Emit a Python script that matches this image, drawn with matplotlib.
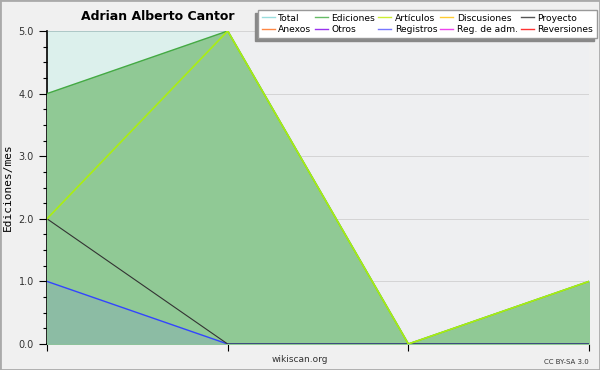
import matplotlib
matplotlib.use('Agg')
import matplotlib.pyplot as plt
from matplotlib.lines import Line2D
from matplotlib.patches import Rectangle

months = [0, 1, 2, 3]
total = [5, 5, 0, 1]
ediciones = [4, 5, 0, 1]
articulos = [2, 5, 0, 1]
proyecto = [2, 0, 0, 0]
registros = [1, 0, 0, 0]

names = ['Total', 'Ediciones', 'Artículos', 'Discusiones', 'Proyecto',
         'Anexos', 'Otros', 'Registros', 'Reg. de adm.', 'Reversiones']
colors = ['#99dddd', '#66bb66', '#ccee33', '#ffcc33', '#555555',
          '#ff8844', '#9933ee', '#7777ff', '#ee44ee', '#ff3333']

fig = plt.figure(figsize=(6, 3.7), dpi=100, facecolor='#f0f0f0')
fig.patches.append(Rectangle((0, 0), 1, 1, transform=fig.transFigure,
                             fill=False, edgecolor='#aaaaaa', lw=2))
ax = fig.add_axes([47/600, 26/370, 542/600, 313/370])
ax.set_facecolor('#eeeff1')

ax.fill_between(months, total, color='#dcf0ec', zorder=1)
ax.plot(months, total, color='#88cccc', lw=1, zorder=2)
ax.fill_between(months, ediciones, color='#90c995', zorder=3)
ax.plot(months, ediciones, color='#44aa44', lw=1, zorder=4)
ax.fill_between(months, registros, color='#7777ff', alpha=0.15, lw=0, zorder=4)
ax.plot(months, registros, color='#3344ff', lw=1, zorder=5)
ax.plot(months, proyecto, color='#333333', lw=0.8, zorder=5)
ax.plot(months, articulos, color='#aaee11', lw=1.2, zorder=6)

ax.set_xlim(0, 3)
ax.set_ylim(0, 5)
ax.set_xticks(months)
ax.set_xticklabels([])
ax.set_yticks([0, 1, 2, 3, 4, 5])
ax.set_yticklabels(['0.0', '1.0', '2.0', '3.0', '4.0', '5.0'], fontsize=7, color='#333333')
ax.set_yticks([i * 0.25 for i in range(21)], minor=True)
ax.tick_params(axis='y', which='major', length=6, width=0.8)
ax.tick_params(axis='y', which='minor', length=3, width=0.8)
ax.tick_params(axis='x', length=5, width=0.8)
ax.grid(axis='y', color='#bbbbbb', lw=0.6, alpha=0.6, zorder=7)
ax.set_axisbelow(False)
for s in ['top', 'right']:
    ax.spines[s].set_visible(False)
ax.spines['left'].set_linewidth(1.2)
ax.spines['bottom'].set_linewidth(1.2)

ax.set_ylabel('Ediciones/mes', fontsize=8, family='DejaVu Sans Mono')
fig.text(158/600, 1 - 17/370, 'Adrian Alberto Cantor', ha='center', va='center',
         fontsize=9, fontweight='bold')
fig.text(300/600, 1 - 360/370, 'wikiscan.org', ha='center', va='center', fontsize=6.5, color='#333333')
fig.text(589/600, 1 - 362/370, 'CC BY-SA 3.0', ha='right', va='center', fontsize=5, color='#333333')

# legend fills column-wise, so interleave the two rows
order = [0, 5, 1, 6, 2, 7, 3, 8, 4, 9]
handles = [Line2D([], [], color=colors[i], lw=1) for i in order]
labels = [names[i] for i in order]
leg = fig.legend(handles, labels, ncol=5, loc='upper right', bbox_to_anchor=(597/600, 1 - 10/370),
                 prop={'size': 6.6}, frameon=True, fancybox=False, framealpha=1,
                 handlelength=1.4, handletextpad=0.4, columnspacing=0.35,
                 labelspacing=0.3, borderpad=0.4, borderaxespad=0)
leg.get_frame().set_edgecolor('#999999')
leg.get_frame().set_facecolor('white')
leg.set_zorder(10)

# shadow offset down-left, as in the original
fig.canvas.draw()
bb = leg.get_window_extent().transformed(fig.transFigure.inverted())
fig.patches.append(Rectangle((bb.x0 - 3/600, bb.y0 - 3/370), bb.width, bb.height,
                             transform=fig.transFigure, color='#888888', zorder=9))

fig.savefig('out.png', dpi=100, facecolor=fig.get_facecolor())
